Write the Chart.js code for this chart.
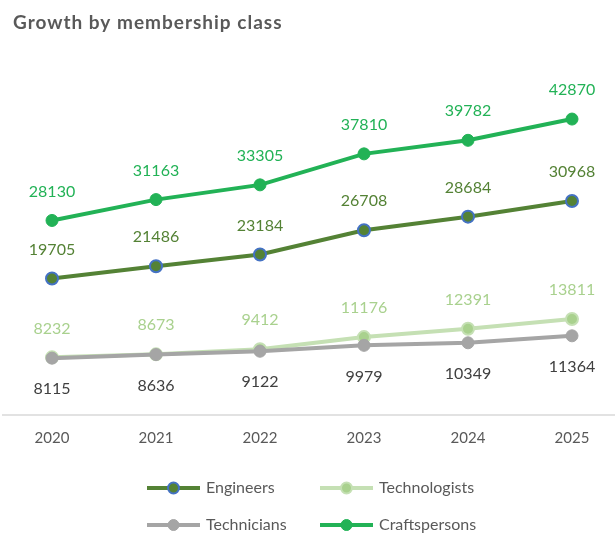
<!DOCTYPE html>
<html>
<head>
<meta charset="utf-8">
<script src="https://cdn.jsdelivr.net/npm/chart.js@4"></script>
<style>
html,body{margin:0;padding:0;background:#fff;}
#wrap{width:616px;height:535px;position:relative;}
</style>
</head>
<body>
<div id="wrap"><canvas id="c" width="616" height="535"></canvas></div>
<script>
const titleText = "Growth by membership class";
const years = ["2020", "2021", "2022", "2023", "2024", "2025"];
const engineers = [19705, 21486, 23184, 26708, 28684, 30968];
const technologists = [8232, 8673, 9412, 11176, 12391, 13811];
const technicians = [8115, 8636, 9122, 9979, 10349, 11364];
const craftspersons = [28130, 31163, 33305, 37810, 39782, 42870];
const seriesNames = ["Engineers", "Technologists", "Technicians", "Craftspersons"];

const FONT = "Lato, 'Open Sans', sans-serif";

const styles = [
  {line:"#548235", fill:"#548235", border:"#4472c4", bw:2, label:"#548235", pos:"above"},
  {line:"#c5e0b4", fill:"#a9d18e", border:"#c5e0b4", bw:2, label:"#a9d18e", pos:"above"},
  {line:"#a5a5a5", fill:"#a5a5a5", border:"#a5a5a5", bw:1, label:"#404040", pos:"below"},
  {line:"#22b256", fill:"#22b256", border:"#22b256", bw:1, label:"#22b256", pos:"above"}
];
const values = [engineers, technologists, technicians, craftspersons];
const orders = [2, 4, 3, 1];

const datasets = seriesNames.map((n, i) => ({
  label: n,
  data: values[i],
  borderColor: styles[i].line,
  backgroundColor: styles[i].fill,
  pointBackgroundColor: styles[i].fill,
  pointBorderColor: styles[i].border,
  pointBorderWidth: styles[i].bw,
  pointRadius: 6,
  pointHoverRadius: 6,
  borderWidth: 4,
  tension: 0,
  order: orders[i],
  clip: false
}));

const extras = {
  id: "extras",
  beforeDatasetsDraw(chart) {
    const ctx = chart.ctx;
    const y0 = chart.scales.y.getPixelForValue(0);
    ctx.save();
    ctx.strokeStyle = "#d9d9d9";
    ctx.lineWidth = 1.5;
    ctx.beginPath();
    ctx.moveTo(2, y0 + 1);
    ctx.lineTo(615, y0 + 1);
    ctx.stroke();
    ctx.restore();
  },
  afterDatasetsDraw(chart) {
    const ctx = chart.ctx;
    ctx.save();
    ctx.font = "16px " + FONT;
    ctx.textAlign = "center";
    ctx.textBaseline = "middle";
    chart.data.datasets.forEach((ds, i) => {
      const meta = chart.getDatasetMeta(i);
      meta.data.forEach((pt, j) => {
        ctx.fillStyle = styles[i].label;
        const dy = styles[i].pos === "above" ? -29 : 31;
        ctx.fillText(String(ds.data[j]), pt.x, pt.y + dy);
      });
    });
    // title
    ctx.textAlign = "left";
    ctx.fillStyle = "#595959";
    ctx.font = "bold 19px " + FONT;
    try { ctx.letterSpacing = "1px"; } catch (e) {}
    ctx.fillText(titleText, 13, 23);
    try { ctx.letterSpacing = "0px"; } catch (e) {}
    // legend
    const cols = [147, 320];
    const rows = [488, 525];
    ctx.font = "16px " + FONT;
    seriesNames.forEach((n, i) => {
      const x = cols[i % 2], y = rows[Math.floor(i / 2)];
      const s = styles[i];
      ctx.strokeStyle = s.line;
      ctx.lineWidth = 4;
      ctx.beginPath();
      ctx.moveTo(x, y);
      ctx.lineTo(x + 53, y);
      ctx.stroke();
      ctx.beginPath();
      ctx.arc(x + 26.5, y, 5.5, 0, Math.PI * 2);
      ctx.fillStyle = s.fill;
      ctx.fill();
      ctx.lineWidth = s.bw;
      ctx.strokeStyle = s.border;
      ctx.stroke();
      ctx.fillStyle = "#595959";
      ctx.fillText(n, x + 59, y);
    });
    ctx.restore();
  }
};

new Chart(document.getElementById("c"), {
  type: "line",
  data: { labels: years, datasets },
  options: {
    responsive: false,
    animation: false,
    layout: { padding: { left: 52, right: 44, top: 70, bottom: 73 } },
    plugins: { legend: { display: false }, title: { display: false }, tooltip: { enabled: false } },
    scales: {
      x: {
        offset: false,
        grid: { display: false, drawTicks: false },
        border: { display: false },
        ticks: { color: "#595959", font: { family: FONT, size: 15 }, padding: 15, maxRotation: 0 }
      },
      y: {
        display: false,
        min: 0,
        max: 50000
      }
    }
  },
  plugins: [extras]
});
</script>
</body>
</html>
